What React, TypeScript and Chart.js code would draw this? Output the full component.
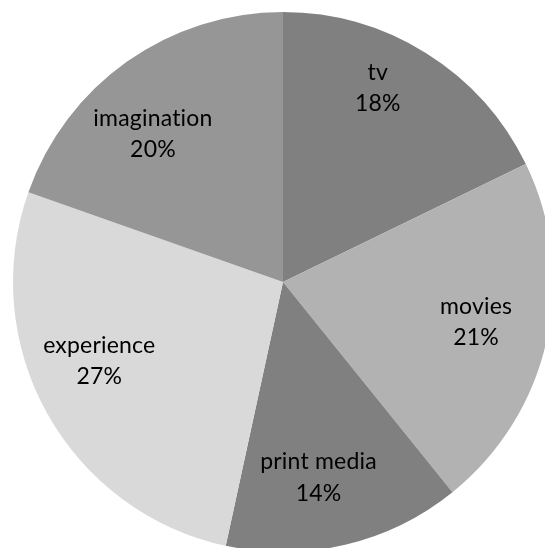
import React, { useEffect, useRef } from "react";
import { Chart, registerables } from "chart.js";

Chart.register(...registerables);

const categories = ["tv", "movies", "print media", "experience", "imagination"];
const values = [17.8, 21.4, 14.2, 27.0, 19.6];
const percentLabels = ["18%", "21%", "14%", "27%", "20%"];
const colors = ["#808080", "#b2b2b2", "#808080", "#d9d9d9", "#969696"];
const labelRadiusFactor = [0.8, 0.73, 0.735, 0.74, 0.73];
const labelAngleNudgeDeg = [-6, -1, 3, 6, -6];

const labelPlugin = {
  id: "sliceLabels",
  afterDatasetsDraw(chart: any) {
    const ctx = chart.ctx;
    const meta = chart.getDatasetMeta(0);
    ctx.save();
    ctx.fillStyle = "#000";
    ctx.font = '23px "Lato", "Open Sans", sans-serif';
    try {
      (ctx as any).letterSpacing = "0.2px";
    } catch (e) {}
    ctx.textAlign = "center";
    ctx.textBaseline = "middle";
    meta.data.forEach((arc: any, i: number) => {
      const p = arc.getProps(["x", "y", "startAngle", "endAngle", "outerRadius"], true);
      const mid = (p.startAngle + p.endAngle) / 2 + (labelAngleNudgeDeg[i] * Math.PI) / 180;
      const r = p.outerRadius * labelRadiusFactor[i];
      const cx = p.x + Math.cos(mid) * r;
      const cy = p.y + Math.sin(mid) * r;
      ctx.fillText(categories[i], cx, cy - 15.5);
      ctx.fillText(percentLabels[i], cx, cy + 16);
    });
    ctx.restore();
  },
};

export default function App() {
  const ref = useRef<HTMLCanvasElement>(null);
  useEffect(() => {
    document.body.style.margin = "0";
    const chart = new Chart(ref.current!, {
      type: "pie",
      data: {
        labels: categories,
        datasets: [
          {
            data: values,
            backgroundColor: colors,
            borderWidth: 0,
          },
        ],
      },
      options: {
        responsive: false,
        animation: false,
        layout: { padding: { left: 13, top: 12, right: 0, bottom: 0 } },
        plugins: {
          legend: { display: false },
          tooltip: { enabled: false },
        },
      },
      plugins: [labelPlugin],
    });
    return () => chart.destroy();
  }, []);
  return (
    <div style={{ position: "absolute", left: 0, top: 0, width: 545, height: 548, overflow: "hidden", background: "#fff" }}>
      <canvas ref={ref} width={553} height={552} style={{ display: "block" }} />
    </div>
  );
}
